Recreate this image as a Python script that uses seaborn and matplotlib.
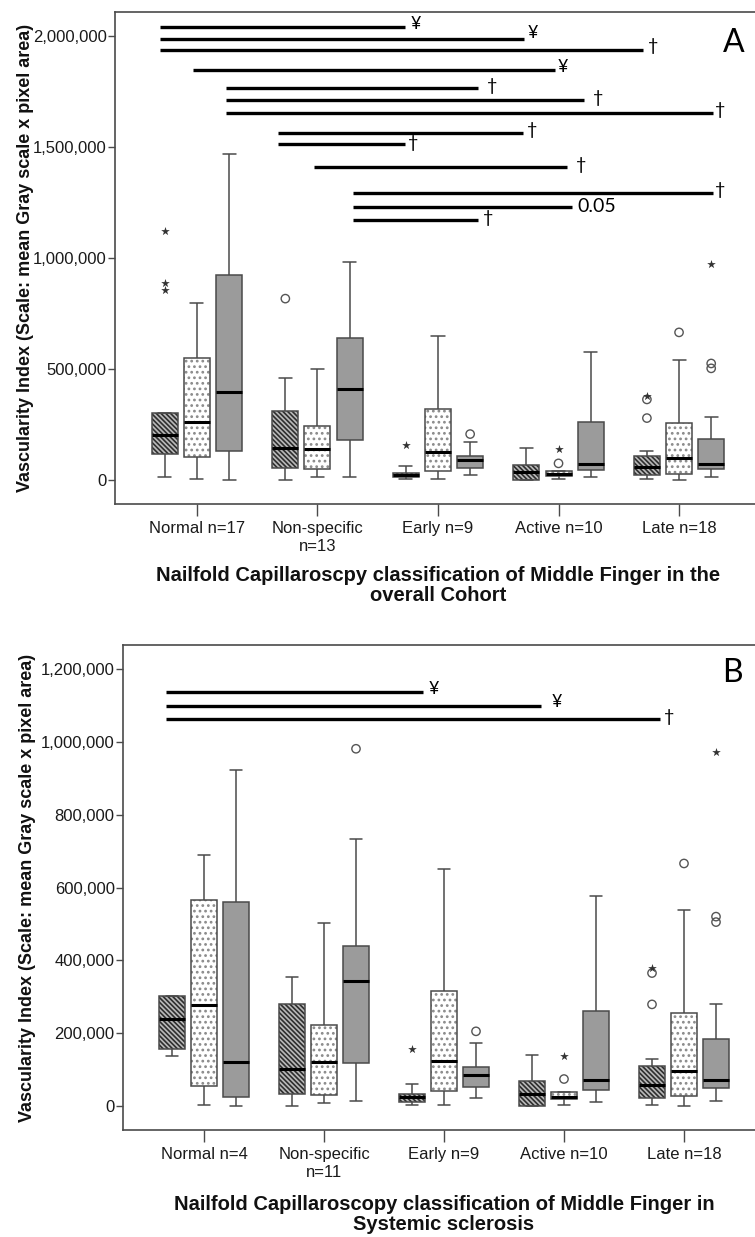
import numpy as np
import pandas as pd
import matplotlib
matplotlib.use("Agg")
import matplotlib.pyplot as plt
from matplotlib.ticker import FuncFormatter, FixedLocator
from matplotlib.colors import to_rgba
import seaborn as sns

sns.set_theme(style="white")
plt.rcParams["font.family"] = ["Liberation Sans", "DejaVu Sans"]
plt.rcParams["hatch.linewidth"] = 1.2

SERIES = ["I", "II", "III"]
FILL = {"I": "#b9b9b9", "II": "#ffffff", "III": "#9b9b9b"}
HATCH = {"I": ("\\\\\\\\\\\\\\", "#2e2e2e"), "II": ("...", "#8a8a8a"), "III": ("", None)}

# ---------------- Panel A: overall cohort ----------------
cats_a = ["Normal n=17", "Non-specific\nn=13", "Early n=9", "Active n=10", "Late n=18"]
# five-number summaries per category: lower whisker, Q1, median, Q3, upper whisker (thousands)
box_a_I = [[13.5, 117, 204, 303, 303], [0, 54, 146, 311, 460], [3, 12, 22.5, 33, 63],
           [0, 0, 35, 69, 143], [3, 22.5, 60, 110, 132]]
box_a_II = [[4.5, 102, 263, 550, 799], [12, 48, 140, 245, 502], [3, 42, 125, 318, 649],
            [3, 18, 25, 40, 40], [0, 27, 98, 255, 539]]
box_a_III = [[0, 129, 396, 922, 1467], [15, 182, 410, 640, 982], [22.5, 53, 90, 110, 173],
             [12, 45, 72, 263, 577], [12, 48, 72, 185, 282]]
# outliers (category index, series, value in thousands)
circles_a = [(1, "I", 817), (2, "III", 207), (3, "II", 75), (4, "I", 279), (4, "I", 363),
             (4, "II", 665), (4, "III", 525), (4, "III", 503)]
stars_a = [(0, "I", 1122), (0, "I", 886), (0, "I", 856), (2, "I", 158), (3, "II", 138),
           (4, "I", 378), (4, "III", 973)]
# significance bars: y (thousands), start/end on category axis, marker text and its position
sig_a_y = [2039, 1988, 1937, 1847, 1766, 1711, 1655, 1562, 1512, 1409, 1294, 1231, 1171]
sig_a_x0 = [-0.307, -0.307, -0.307, -0.033, 0.24, 0.24, 0.24, 0.672, 0.672, 0.971, 1.295, 1.295, 1.295]
sig_a_x1 = [1.726, 2.714, 3.70, 2.97, 2.33, 3.21, 4.28, 2.705, 1.726, 3.07, 4.28, 3.11, 2.33]
sig_a_txt = ["¥", "¥", "†", "¥", "†", "†", "†", "†", "†", "†", "†", "0.05", "†"]
sig_a_tx = [1.817, 2.788, 3.784, 3.037, 2.448, 3.328, 4.34, 2.78, 1.793, 3.187, 4.34, 3.32, 2.415]
sig_a_ty = [2054, 2014, 1955, 1861, 1775, 1721, 1667, 1577, 1518, 1419, 1306, 1230, 1180]
title_a = "Nailfold Capillaroscpy classification of Middle Finger in the\noverall Cohort"

# ---------------- Panel B: systemic sclerosis ----------------
cats_b = ["Normal n=4", "Non-specific\nn=11", "Early n=9", "Active n=10", "Late n=18"]
box_b_I = [[137, 157, 238, 302, 302], [0, 32, 101, 281, 354], [2, 12, 24, 32, 61],
           [0, 0, 32, 69, 140], [2, 23, 57, 109, 129]]
box_b_II = [[3, 56, 277, 566, 690], [9, 31, 121, 222, 502], [2, 42, 124, 317, 650],
            [3, 20, 24, 38, 38], [0, 27, 97, 255, 538]]
box_b_III = [[0, 24, 122, 560, 923], [14, 119, 343, 440, 733], [23, 53, 86, 108, 172],
             [12, 44, 71, 261, 577], [13, 49, 72, 185, 281]]
circles_b = [(1, "III", 981), (2, "III", 205), (3, "II", 74), (4, "I", 279), (4, "I", 365),
             (4, "II", 666), (4, "III", 520), (4, "III", 505)]
stars_b = [(2, "I", 157), (3, "II", 136), (4, "I", 380), (4, "III", 973)]
sig_b_y = [1138, 1099, 1063]
sig_b_x0 = [-0.317, -0.317, -0.317]
sig_b_x1 = [1.825, 2.808, 3.80]
sig_b_txt = ["¥", "¥", "†"]
sig_b_tx = [1.917, 2.94, 3.875]
sig_b_ty = [1145, 1110, 1069]
title_b = "Nailfold Capillaroscopy classification of Middle Finger in\nSystemic sclerosis"

YLABEL = "Vascularity Index (Scale: mean Gray scale x pixel area)"
EDGE = "#4a4a4a"


def long_frame(cats, boxes):
    rows = []
    for s, series_boxes in zip(SERIES, boxes):
        for c, five in zip(cats, series_boxes):
            for v in five:
                rows.append((c, s, v * 1000.0))
    return pd.DataFrame(rows, columns=["cat", "series", "val"])


def point_frame(cats, pts):
    return pd.DataFrame([(cats[i], s, v * 1000.0) for i, s, v in pts],
                        columns=["cat", "series", "val"])


def draw_panel(ax, cats, boxes, circles, stars, ylim, yticks, xlim,
               sy, sx0, sx1, stxt, stx, sty, letter, letter_pos, title, title_pad, ylab_x):
    df = long_frame(cats, boxes)
    sns.boxplot(data=df, x="cat", y="val", hue="series", order=cats, hue_order=SERIES,
                palette=FILL, saturation=1, whis=(0, 100), width=0.8, gap=0.19,
                linecolor=EDGE, linewidth=1.1, fliersize=0, legend=False,
                medianprops=dict(color="black", linewidth=2.2), ax=ax)
    # patterned fills
    lookup = {tuple(np.round(to_rgba(c), 3)): s for s, c in FILL.items()}
    for p in ax.patches:
        key = tuple(np.round(p.get_facecolor(), 3))
        s = lookup.get(key)
        if s is None:
            continue
        pat, hc = HATCH[s]
        if pat:
            p.set_hatch(pat)
            if hasattr(p, "set_hatchcolor"):
                p.set_hatchcolor(hc)
            else:
                p._hatch_color = to_rgba(hc)

    grey = {s: "#555555" for s in SERIES}
    n0 = len(ax.collections)
    sns.stripplot(data=point_frame(cats, circles), x="cat", y="val", hue="series",
                  order=cats, hue_order=SERIES, dodge=True, jitter=False, palette=grey,
                  marker="o", size=6, linewidth=1, legend=False, ax=ax)
    for coll in ax.collections[n0:]:
        coll.set_facecolor("none")
        coll.set_edgecolor("#555555")
        coll.set_linewidth(1.0)
    n1 = len(ax.collections)
    sns.stripplot(data=point_frame(cats, stars), x="cat", y="val", hue="series",
                  order=cats, hue_order=SERIES, dodge=True, jitter=False, palette=grey,
                  marker="*", size=6.5, linewidth=0, legend=False, ax=ax)
    for coll in ax.collections[n1:]:
        coll.set_facecolor("#333333")
        coll.set_edgecolor("#333333")

    # significance bars
    ax.hlines([v * 1000 for v in sy], sx0, sx1, color="black", linewidth=2.4, zorder=5)
    for t, x, y in zip(stxt, stx, sty):
        ax.text(x, y * 1000, t, ha="center", va="center", fontsize=13 if t != "0.05" else 14,
                family=["Lato", "DejaVu Sans"], color="black", zorder=6)
    ax.text(letter_pos[0], letter_pos[1], letter, transform=ax.transAxes, ha="center",
            va="center", fontsize=23, family=["Lato", "DejaVu Sans"], color="black")

    ax.set_xlim(*xlim)
    ax.set_ylim(*ylim)
    ax.yaxis.set_major_locator(FixedLocator(yticks))
    ax.yaxis.set_major_formatter(FuncFormatter(lambda v, _: f"{v:,.0f}"))
    ax.tick_params(axis="x", length=8.5, width=1, color=EDGE, pad=4, labelsize=12,
                   labelcolor="#1a1a1a", bottom=True)
    ax.tick_params(axis="y", length=5, width=1, color=EDGE, pad=1, labelsize=12,
                   labelcolor="#1a1a1a", left=True)
    for sp in ax.spines.values():
        sp.set_visible(True)
        sp.set_color(EDGE)
        sp.set_linewidth(1.2)
    ax.set_ylabel(YLABEL, fontsize=13, fontweight="bold", color="#111111")
    ax.yaxis.set_label_coords(ylab_x, 0.5)
    ax.set_xlabel(title, fontsize=14.5, fontweight="bold", color="#111111",
                  labelpad=title_pad, linespacing=1.05)
    ax.grid(False)


W, H = 755, 1237
fig = plt.figure(figsize=(W / 100, H / 100), dpi=100)
fig.patch.set_facecolor("white")

axA = fig.add_axes([115 / W, (H - 504) / H, 646 / W, 492 / H])
draw_panel(axA, cats_a, [box_a_I, box_a_II, box_a_III], circles_a, stars_a,
           ylim=(-108000, 2108000), yticks=[0, 500000, 1000000, 1500000, 2000000],
           xlim=(-0.68, 4.68), sy=sig_a_y, sx0=sig_a_x0, sx1=sig_a_x1, stxt=sig_a_txt,
           stx=sig_a_tx, sty=sig_a_ty, letter="A", letter_pos=(0.957, 0.937),
           title=title_a, title_pad=9, ylab_x=(34 - 115) / 646)

axB = fig.add_axes([123 / W, (H - 1130) / H, 642 / W, 485 / H])
draw_panel(axB, cats_b, [box_b_I, box_b_II, box_b_III], circles_b, stars_b,
           ylim=(-66000, 1266000), yticks=list(range(0, 1200001, 200000)),
           xlim=(-0.675, 4.675), sy=sig_b_y, sx0=sig_b_x0, sx1=sig_b_x1, stxt=sig_b_txt,
           stx=sig_b_tx, sty=sig_b_ty, letter="B", letter_pos=(0.950, 0.942),
           title=title_b, title_pad=11, ylab_x=(36 - 123) / 642)

fig.savefig("out.png", dpi=100, facecolor="white")
